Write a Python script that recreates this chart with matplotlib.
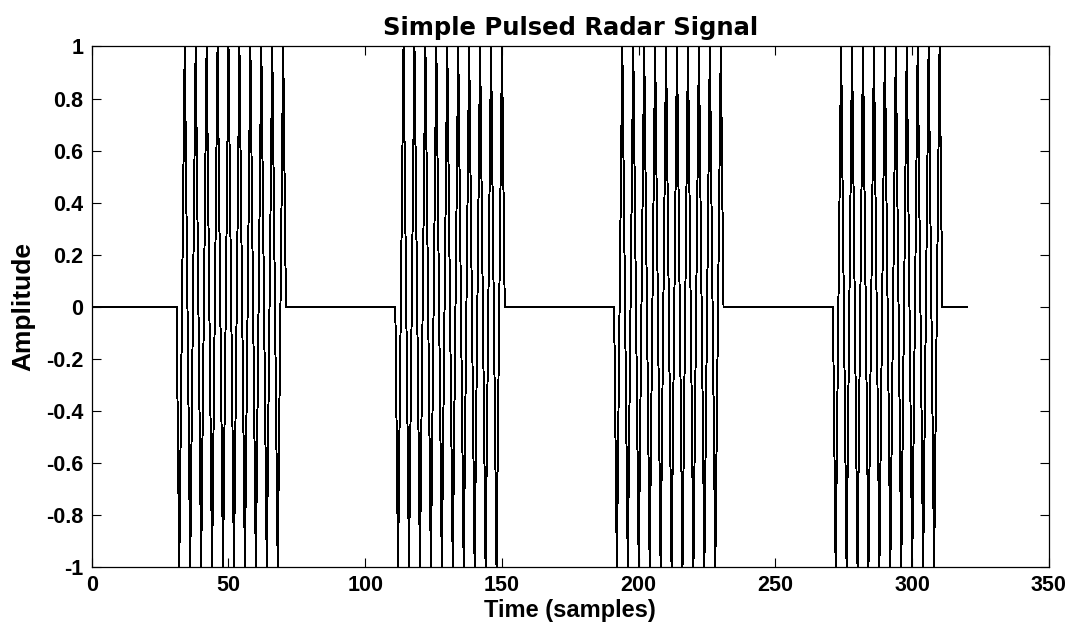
import numpy as np
import matplotlib
matplotlib.use("Agg")
import matplotlib.pyplot as plt

# one pulse of the carrier, samples 32..71 (troughs/peaks every 4 samples)
pulse_samples = [-1, 0, 1, 0, -1, 0, 1, 0, -1, 0,
                 1, 0, -1, 0, 1, 0, -1, 0, 1, 0,
                 -1, 0, 1, 0, -1, 0, 1, 0, -1, 0,
                 1, 0, -1, 0, 1, 0, -1, 0, 1, 0]
pulse_starts = [32, 112, 192, 272]
n_last = 320

x_ticks = [0, 50, 100, 150, 200, 250, 300, 350]
y_ticks = [-1, -0.8, -0.6, -0.4, -0.2, 0, 0.2, 0.4, 0.6, 0.8, 1]
y_labels = ["-1", "-0.8", "-0.6", "-0.4", "-0.2", "0", "0.2", "0.4", "0.6", "0.8", "1"]

n = np.arange(0, n_last + 1)
sig = np.zeros(len(n))
for s in pulse_starts:
    sig[s:s + len(pulse_samples)] = pulse_samples

plt.rcParams["font.family"] = ["Liberation Sans", "DejaVu Sans"]
plt.rcParams["font.weight"] = "bold"

fig = plt.figure(figsize=(10.73, 6.30), dpi=100)
ax = fig.add_axes([0.0855, 0.1, 0.8921, 0.8262])
ax.plot(n, sig, color="black", lw=0.7, antialiased=False)

ax.set_xlim(0, 350)
ax.set_ylim(-1, 1)
ax.set_xticks(x_ticks)
ax.set_xticklabels([str(v) for v in x_ticks])
ax.set_yticks(y_ticks)
ax.set_yticklabels(y_labels)
ax.tick_params(direction="in", length=6.5, width=0.8, top=True, right=True,
               labelsize=15.5, pad=6)
for sp in ax.spines.values():
    sp.set_linewidth(0.9)

ax.set_title("Simple Pulsed Radar Signal", fontsize=17.5, fontweight="bold",
             family="DejaVu Sans", pad=8.5)
ax.set_xlabel("Time (samples)", fontsize=17, fontweight="bold", labelpad=2)
ax.set_ylabel("Amplitude", fontsize=19, fontweight="bold", labelpad=8)

fig.savefig("out.png", dpi=100)
